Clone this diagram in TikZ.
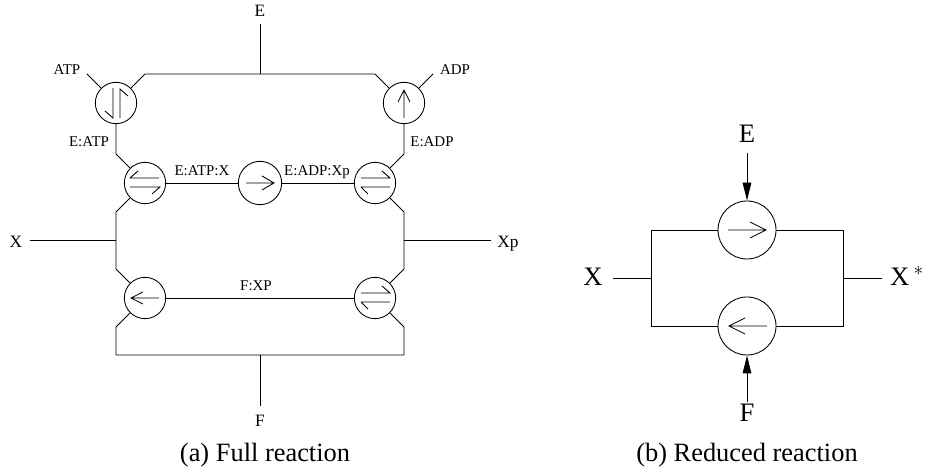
\documentclass[tikz,border=0pt]{standalone}
\usepackage{fontspec}
\setmainfont{Liberation Serif}
\usetikzlibrary{arrows.meta}
\tikzset{
  rxn/.style={circle, draw, inner sep=0pt, minimum size=31pt},
  rxnbig/.style={circle, draw, inner sep=0pt, minimum size=43.5pt},
  lab/.style={anchor=base, inner sep=0pt, font=\fontsize{11.2}{13}\selectfont},
  labmid/.style={anchor=base, inner sep=0pt, font=\fontsize{13}{15}\selectfont},
  labbig/.style={anchor=base, inner sep=0pt, font=\fontsize{20}{24}\selectfont},
  capt/.style={anchor=base, inner sep=0pt, font=\fontsize{19.8}{23}\selectfont},
  pics/swaptop/.style={code={
    \draw (-15,-5) -- (14,-5) (-15,-5) -- (-7,-12);
    \draw (-15,4) -- (15,4) -- (7,11);
  }},
  pics/swapbot/.style={code={
    \draw (-14,-5) -- (15,-5) -- (7,-12);
    \draw (-14,4) -- (15,4) (-14,4) -- (-7,11);
  }},
  pics/swapup/.style={code={
    \draw (-3,-15) -- (-3,15) -- (-11,8);
    \draw (4,15) -- (4,-14) -- (12,-7);
  }},
}
\begin{document}
\begin{tikzpicture}[x=0.75pt,y=-0.75pt,line width=0.65pt]
  \useasboundingbox (0,0) rectangle (925,473);
  % full reaction
  \node[rxn] (atp) at (116,103) {};
  \node[rxn] (adp) at (404,103) {};
  \node[rxn] (eatp) at (145,183) {};
  \node[rxn, minimum size=32.5pt] (eatpx) at (260,183) {};
  \node[rxn] (eadp) at (375,183) {};
  \node[rxn] (fxpl) at (145,298) {};
  \node[rxn] (fxpr) at (375,298) {};
  \pic at (atp) {swapup};
  \pic at (eatp) {swaptop};
  \pic at (eadp) {swapbot};
  \pic at (fxpr) {swapbot};
  \draw (404,118) -- (404,90) (398,102) -- (404,90) -- (410,102);
  \draw (246,183) -- (274,183) (262,176) -- (274,183) -- (262,190);
  \draw (159,298) -- (131,298) (143,292) -- (131,298) -- (143,304);

  \node[labmid] (e) at (260,17) {E};
  \node[labmid] (f) at (260,427) {F};
  \node[labmid] (x) at (16,248) {X};
  \node[labmid] (xp) at (508,248) {Xp};
  \node[lab] (atplab) at (67,75) {ATP};
  \node[lab] (adplab) at (455,75) {ADP};
  \node[lab] (eatplab) at (89,147) {E:ATP};
  \node[lab] (eadplab) at (432,147) {E:ADP};
  \node[lab] (eatpxlab) at (202,176) {E:ATP:X};
  \node[lab] (eadpxlab) at (317,176) {E:ADP:Xp};
  \node[lab] (fxplab) at (256,291) {F:XP};

  \coordinate (ein) at (260,24);
  \coordinate (etop) at (260,74);
  \coordinate (tl) at (145,74);
  \coordinate (tr) at (375,74);
  \coordinate (atpend) at (87,74);
  \coordinate (adpend) at (433,74);
  \coordinate (fin) at (260,406);
  \coordinate (fbot) at (260,355);
  \coordinate (xin) at (30,240);
  \coordinate (xl) at (116,240);
  \coordinate (xout) at (491,240);
  \coordinate (xr) at (404,240);

  \draw (ein) -- (etop);
  \draw (atp) -- (tl) -- (tr) -- (adp);
  \draw (atpend) -- (atp);
  \draw (adpend) -- (adp);
  \draw (atp) -- (116,154) -- (eatp);
  \draw (adp) -- (404,154) -- (eadp);
  \draw (eatp) -- (eatpx);
  \draw (eatpx) -- (eadp);
  \draw (eatp) -- (116,212) -- (116,269) -- (fxpl);
  \draw (eadp) -- (404,212) -- (404,269) -- (fxpr);
  \draw (xin) -- (xl);
  \draw (xr) -- (xout);
  \draw (fxpl) -- (fxpr);
  \draw (fxpl) -- (116,327) -- (116,355) -- (404,355) -- (404,327) -- (fxpr);
  \draw (fbot) -- (fin);
  \node[capt] (capa) at (265,462) {(a) Full reaction};

  % reduced reaction
  \node[rxnbig] (fwd) at (747,230) {};
  \node[rxnbig] (rev) at (747,326) {};
  \draw (728,230) -- (766,230) (750,222) -- (766,230) -- (750,238);
  \draw (767,326) -- (729,326) (745,318) -- (729,326) -- (745,334);

  \node[labbig] (e2) at (747,143) {E};
  \node[labbig] (f2) at (747,422) {F};
  \node[labbig] (x2) at (593,286) {X};
  \node[labbig] (xs2) at (907,286) {X\,$^*$};
  \coordinate (e2in) at (747,153);
  \coordinate (f2in) at (747,402);
  \coordinate (x2in) at (613,278);
  \coordinate (x2l) at (651,278);
  \coordinate (x2r) at (843,278);
  \coordinate (x2out) at (882,278);

  \draw[-{Triangle[length=13.5pt,width=6.5pt]}] (e2in) -- (fwd);
  \draw[-{Triangle[length=13.5pt,width=6.5pt]}] (f2in) -- (rev);
  \draw (fwd) -- (651,230) -- (651,326) -- (rev);
  \draw (fwd) -- (843,230) -- (843,326) -- (rev);
  \draw (x2in) -- (x2l);
  \draw (x2r) -- (x2out);
  \node[capt] (capb) at (747,462) {(b) Reduced reaction};
\end{tikzpicture}
\end{document}
